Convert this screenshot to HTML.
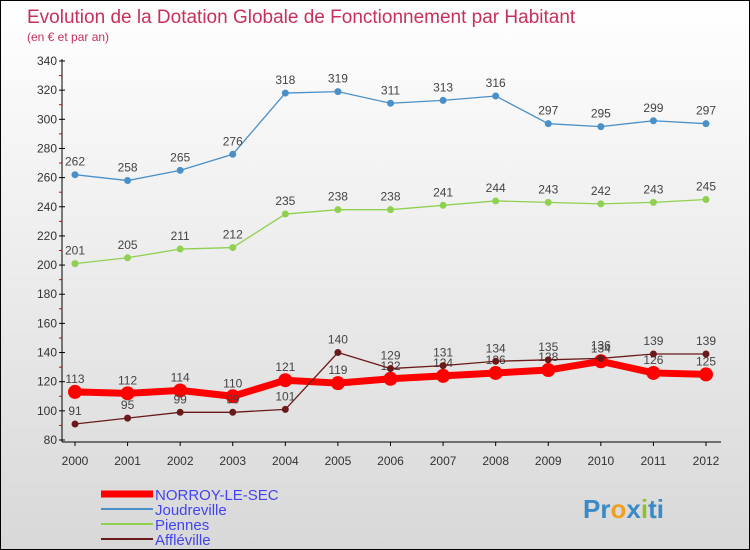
<!DOCTYPE html>
<html><head><meta charset="utf-8"><style>
body{margin:0;}
#c{width:748px;height:548px;border:1px solid #000;background:linear-gradient(#fff,#d8d8d8);position:relative;font-family:"Liberation Sans",sans-serif;overflow:hidden}
</style></head><body>
<div id="c">
<svg id="s" width="748" height="548"></svg>
</div>
<script>
const years=["2000","2001","2002","2003","2004","2005","2006","2007","2008","2009","2010","2011","2012"];
const yTicks=[80,100,120,140,160,180,200,220,240,260,280,300,320,340];
const norroy=[113,112,114,110,121,119,122,124,126,128,134,126,125];
const joudreville=[262,258,265,276,318,319,311,313,316,297,295,299,297];
const piennes=[201,205,211,212,235,238,238,241,244,243,242,243,245];
const affleville=[91,95,99,99,101,140,129,131,134,135,136,139,139];
const NS='http://www.w3.org/2000/svg';
const s=document.getElementById('s');
function X(i){return 74+i*(705-74)/12;}
function Y(v){return 439-(v-80)*(379/260);}
function mk(t,a,p){const e=document.createElementNS(NS,t);for(const k in a)e.setAttribute(k,a[k]);(p||s).appendChild(e);return e;}
const t1=mk('text',{x:26,y:22,fill:'#c8305a','font-size':19});t1.textContent='Evolution de la Dotation Globale de Fonctionnement par Habitant';

const t2=mk('text',{x:26,y:40,fill:'#c8305a','font-size':12});t2.textContent='(en € et par an)';

const ax=mk('line',{x1:61,y1:58,x2:61,y2:441,stroke:'#000'});

const xa=mk('line',{x1:61,y1:441,x2:720,y2:441,stroke:'#000'});

yTicks.forEach(v=>{mk('line',{x1:58,y1:Y(v),x2:64,y2:Y(v),stroke:'#000'});
 const t=mk('text',{x:56,y:Y(v)+4,'text-anchor':'end','font-size':12,fill:'#333'});t.textContent=v;
 
 if(v<340)mk('line',{x1:58,y1:Y(v+10),x2:61,y2:Y(v+10),stroke:'#d00'});});
years.forEach((y,i)=>{mk('line',{x1:X(i),y1:441,x2:X(i),y2:445,stroke:'#000'});
 const t=mk('text',{x:X(i),y:464,'text-anchor':'middle','font-size':12,fill:'#333'});t.textContent=y;
 });
function series(d,col,w,r,name){const g=mk('g',{});
 
 mk('polyline',{points:d.map((v,i)=>X(i)+','+Y(v)).join(' '),fill:'none',stroke:col,'stroke-width':w},g);
 d.forEach((v,i)=>{const c=mk('circle',{cx:X(i),cy:Y(v),r:r,fill:col},g);
  
  const t=mk('text',{x:X(i),y:Y(v)-9,'text-anchor':'middle','font-size':12,fill:'#444'},g);t.textContent=v;});}
series(joudreville,'#4a90c8',1.3,3.5,'joudreville-series');
series(piennes,'#90d050',1.3,3.5,'piennes-series');
series(norroy,'#ff0000',7,7,'norroy-series');
series(affleville,'#6a1a1a',1.3,3.5,'affleville-series');
const leg=[['NORROY-LE-SEC','#ff0000',7],['Joudreville','#4a90c8',2],['Piennes','#90d050',2],['Affléville','#6a1a1a',2]];
leg.forEach((l,i)=>{const y=493+i*15;const g=mk('g',{});
 
 mk('line',{x1:100,y1:y,x2:152,y2:y,stroke:l[1],'stroke-width':l[2]},g);
 const t=mk('text',{x:154,y:y+6,'font-size':15,fill:'#4444ee'},g);t.textContent=l[0];});
const lg=mk('text',{x:582,y:517,'font-size':26,'font-weight':'bold',fill:'#3a8ac8'});
lg.innerHTML='<tspan fill="#3a8ac8">Pr</tspan><tspan fill="#f0a020">o</tspan><tspan fill="#3a8ac8">x</tspan><tspan fill="#90c030">i</tspan><tspan fill="#3a8ac8">ti</tspan>';

</script>
</body></html>
